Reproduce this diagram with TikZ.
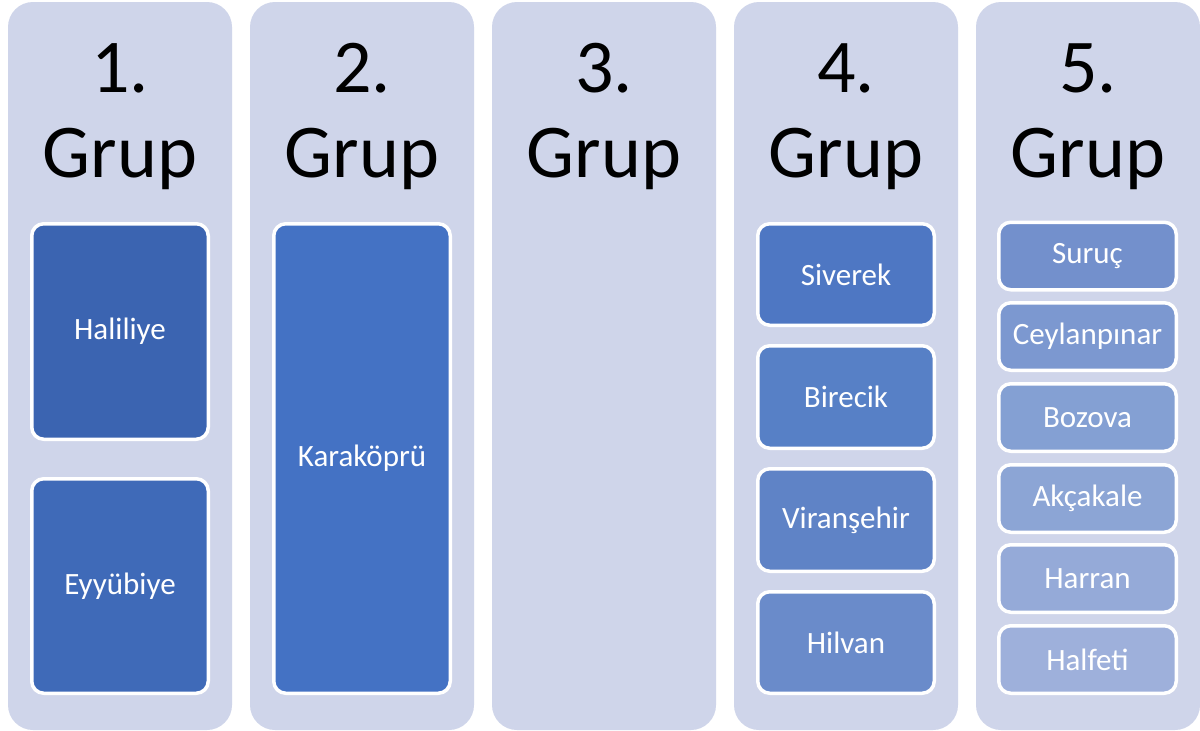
\documentclass[tikz,border=0pt]{standalone}
\usepackage{fontspec}
\setmainfont{Carlito}
\definecolor{colbg}{HTML}{CFD5EA}
\definecolor{cA}{HTML}{3B64B1}
\definecolor{cB}{HTML}{3F6AB8}
\definecolor{cC}{HTML}{4472C4}
\definecolor{cD1}{HTML}{4E77C3}
\definecolor{cD2}{HTML}{5780C6}
\definecolor{cD3}{HTML}{5F83C6}
\definecolor{cD4}{HTML}{6A8BCA}
\definecolor{cE1}{HTML}{7390CC}
\definecolor{cE2}{HTML}{7C98D0}
\definecolor{cE3}{HTML}{84A0D3}
\definecolor{cE4}{HTML}{8CA5D5}
\definecolor{cE5}{HTML}{95AAD8}
\definecolor{cE6}{HTML}{9EB0DB}
\tikzset{
  colbox/.style={fill=colbg, draw=none, rounded corners=25pt, minimum width=224pt, minimum height=728pt, inner sep=0pt, outer sep=0pt},
  title/.style={anchor=base, font=\fontsize{76}{85}\selectfont, text=black, inner sep=0pt},
  itembox/.style={draw=white, line width=3.5pt, rounded corners=12pt, inner sep=0pt, outer sep=0pt, text=white, font=\fontsize{31}{36}\selectfont, minimum width=176.5pt},
}
\begin{document}
\begin{tikzpicture}[x=1pt,y=-1pt]
\useasboundingbox[fill=white] (0,0) rectangle (1200,731);
% columns
\node[colbox] (c1) at (120,366) {};
\node[colbox] (c2) at (362,366) {};
\node[colbox] (c3) at (604,366) {};
\node[colbox] (c4) at (846,366) {};
\node[colbox] (c5) at (1088,366) {};
% titles
\node[title] (t1a) at (120,92) {1.};
\node[title] (t1b) at (120,177) {Grup};
\node[title] (t2a) at (362,92) {2.};
\node[title] (t2b) at (362,177) {Grup};
\node[title] (t3a) at (604,92) {3.};
\node[title] (t3b) at (604,177) {Grup};
\node[title] (t4a) at (846,92) {4.};
\node[title] (t4b) at (846,177) {Grup};
\node[title] (t5a) at (1088,92) {5.};
\node[title] (t5b) at (1088,177) {Grup};
% column 1
\node[itembox, fill=cA, minimum height=215.5pt] (hal) at (120,331.5) {Haliliye};
\node[itembox, fill=cB, minimum height=214.5pt] (eyy) at (120,586) {Eyyübiye};
% column 2
\node[itembox, fill=cC, minimum height=469.5pt] (kar) at (362,458.5) {Karaköprü};
% column 4
\node[itembox, fill=cD1, minimum height=101.5pt] (siv) at (846,274.5) {Siverek};
\node[itembox, fill=cD2, minimum height=102.5pt] (bir) at (846,397) {Birecik};
\node[itembox, fill=cD3, minimum height=102.5pt] (vir) at (846,520) {Viranşehir};
\node[itembox, fill=cD4, minimum height=101.5pt] (hil) at (846,642.5) {Hilvan};
% column 5
\tikzset{itembox5/.style={itembox, minimum width=177.5pt, minimum height=67.5pt}}
\node[itembox5, fill=cE1] (sur) at (1087.5,256) {Suruç};
\node[itembox5, fill=cE2] (cey) at (1087.5,336.5) {Ceylanpınar};
\node[itembox5, fill=cE3] (boz) at (1087.5,417.5) {Bozova};
\node[itembox5, fill=cE4] (akc) at (1087.5,498.5) {Akçakale};
\node[itembox5, fill=cE5] (har) at (1087.5,578.5) {Harran};
\node[itembox5, fill=cE6] (hlf) at (1087.5,659.5) {Halfeti};
\end{tikzpicture}
\end{document}
